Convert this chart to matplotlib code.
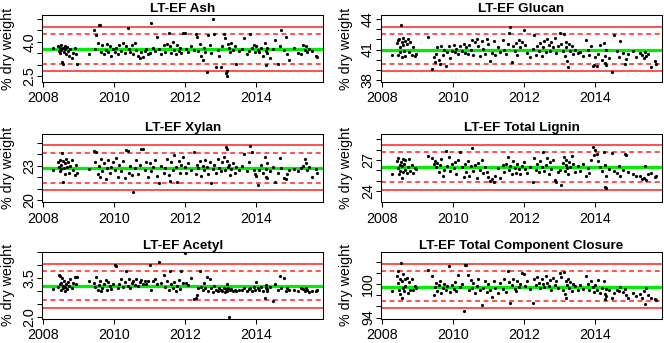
import matplotlib
matplotlib.use('Agg')
import matplotlib.pyplot as plt
from matplotlib.ticker import FixedLocator, FixedFormatter

plt.rcParams['font.family'] = ['Liberation Sans', 'DejaVu Sans']

# sampling dates (decimal years), shared by all components
dates = [
    2008.27, 2008.42, 2008.44, 2008.46, 2008.48, 2008.50, 2008.51, 2008.53, 2008.55, 2008.56, 2008.58, 2008.60,
    2008.62, 2008.64, 2008.66, 2008.70, 2008.73, 2008.76, 2008.80, 2008.84, 2008.88, 2008.92, 2008.96,
    2009.30, 2009.42, 2009.46, 2009.50, 2009.53, 2009.56, 2009.60, 2009.63, 2009.67, 2009.72, 2009.76, 2009.80,
    2009.84, 2009.88, 2009.92, 2009.96,
    2010.02, 2010.06, 2010.10, 2010.15, 2010.20, 2010.25, 2010.30, 2010.34, 2010.38, 2010.42, 2010.46, 2010.50,
    2010.54, 2010.58, 2010.62, 2010.67, 2010.72, 2010.77, 2010.82, 2010.86, 2010.90, 2010.95,
    2011.00, 2011.05, 2011.10, 2011.15, 2011.20, 2011.27, 2011.33, 2011.40, 2011.45, 2011.50, 2011.54, 2011.58,
    2011.62, 2011.66, 2011.70, 2011.74, 2011.78, 2011.82, 2011.86, 2011.90, 2011.95,
    2012.00, 2012.04, 2012.10, 2012.18, 2012.25, 2012.30, 2012.34, 2012.38, 2012.42, 2012.46, 2012.50, 2012.54,
    2012.58, 2012.62, 2012.66, 2012.70, 2012.74, 2012.78, 2012.82, 2012.87, 2012.92, 2012.96,
    2013.02, 2013.06, 2013.10, 2013.13, 2013.16, 2013.18, 2013.20, 2013.22, 2013.25, 2013.28, 2013.31, 2013.35,
    2013.40, 2013.45, 2013.52,
    2013.60, 2013.68, 2013.75, 2013.80, 2013.85, 2013.90, 2013.95, 2013.98,
    2014.02, 2014.06, 2014.10, 2014.15, 2014.20, 2014.25, 2014.28, 2014.30, 2014.31, 2014.32, 2014.40, 2014.48,
    2014.55, 2014.62, 2014.68, 2014.72, 2014.80, 2014.85, 2014.88, 2014.95,
    2015.08, 2015.18, 2015.28, 2015.33, 2015.38, 2015.42, 2015.45, 2015.50, 2015.58, 2015.70, 2015.72,
]

ash = [
    3.71, 3.80, 3.60, 3.75, 3.50, 3.85, 3.65, 3.10, 3.05, 3.75, 3.55, 3.82, 3.68, 3.45, 3.78, 3.60, 3.40, 3.70,
    3.30, 3.50, 3.72, 3.45, 3.05,
    3.45, 4.50, 3.70, 4.29, 3.95, 4.72, 4.72, 3.55, 3.85, 3.45, 3.65, 3.90, 3.55, 3.80, 3.40, 3.70,
    3.55, 3.75, 3.45, 3.85, 3.60, 3.95, 3.50, 3.80, 4.58, 3.70, 3.55, 3.85, 3.45, 3.95, 3.65, 3.40, 3.30, 3.55,
    3.35, 3.60, 3.70, 3.45,
    3.50, 4.80, 3.75, 3.60, 4.19, 3.70, 3.45, 3.85, 3.55, 3.90, 4.40, 3.80, 3.50, 4.00, 3.65, 3.45, 3.85, 3.60,
    3.75, 3.50, 4.39,
    4.39, 3.70, 3.55, 3.80, 3.65, 4.33, 4.20, 3.60, 3.90, 3.40, 3.20, 3.75, 3.55, 2.69, 4.29, 3.85, 3.50, 4.97,
    4.36, 2.90, 3.65, 3.40,
    2.90, 3.80, 4.36, 4.15, 2.62, 2.50, 2.75, 3.90, 3.75, 3.55, 3.95, 3.65, 3.80, 3.02, 3.60,
    3.70, 4.15, 3.45, 3.60, 4.36, 3.75, 3.85, 3.55,
    3.80, 3.65, 3.55, 3.75, 3.40, 3.93, 2.98, 3.60, 3.50, 3.75, 3.30, 3.70,
    4.07, 3.02, 3.80, 4.51, 3.65, 4.22, 3.45, 3.20,
    3.75, 3.50, 3.45, 3.85, 3.65, 3.80, 3.55, 3.70, 3.60, 3.40, 3.35,
]

glucan = [
    40.45, 41.6, 41.9, 40.5, 42.0, 41.2, 40.8, 43.4, 41.7, 40.3, 41.4, 42.1, 40.9, 41.8, 40.4, 41.5, 42.0, 40.8,
    41.7, 40.5, 41.2, 40.4, 40.6,
    42.2, 39.1, 40.3, 39.8, 40.6, 41.2, 40.0, 39.6, 41.3, 40.5, 41.0, 39.4, 40.8, 41.3, 40.2, 40.9,
    41.4, 40.8, 41.1, 40.6, 41.3, 40.9, 41.5, 40.7, 41.2, 40.6, 41.4, 41.0, 41.9, 40.5, 41.7, 42.0, 41.3, 40.4,
    41.8, 41.1, 40.6, 42.0,
    41.5, 39.9, 40.7, 41.8, 40.5, 41.2, 40.8, 41.9, 41.0, 40.6, 41.5, 42.6, 43.2, 39.8, 41.3, 40.9, 41.6, 40.5,
    41.9, 41.2, 41.7,
    42.9, 41.4, 40.7, 40.3, 41.1, 42.4, 40.5, 41.3, 40.9, 41.6, 40.4, 41.2, 41.8, 40.8, 42.0, 41.4, 40.9, 41.7,
    41.2, 42.1, 40.7, 41.3,
    42.6, 41.5, 40.9, 42.5, 40.4, 41.7, 41.2, 39.9, 39.3, 41.5, 40.9, 41.3, 40.6, 41.0, 40.7,
    40.8, 40.4, 41.9, 41.0, 40.5, 41.3, 39.4, 39.5,
    40.3, 39.4, 40.6, 41.4, 40.0, 41.6, 39.7, 40.4, 41.0, 39.5, 40.2, 38.8,
    42.4, 40.9, 40.3, 41.8, 40.7, 39.6, 40.1, 40.6,
    40.9, 40.3, 40.7, 40.5, 40.2, 40.8, 40.4, 40.6, 39.3, 39.9, 39.6,
]

xylan = [
    22.6, 23.3, 22.9, 23.5, 22.5, 23.1, 22.7, 24.1, 21.6, 23.4, 22.8, 23.2, 22.3, 23.6, 22.9, 23.3, 22.4, 23.0,
    23.5, 22.6, 22.2, 23.1, 22.4,
    22.7, 24.3, 23.3, 24.2, 22.3, 23.0, 22.0, 23.6, 22.5, 23.2, 21.8, 22.8, 23.5, 22.4, 22.9, 23.3,
    22.6, 23.7, 22.0, 23.1, 22.5, 23.4, 21.9, 24.4, 24.3, 22.4, 23.0, 22.2, 20.7, 22.8, 23.5, 22.3, 23.1, 24.5,
    24.5, 22.6, 23.3, 22.0,
    23.2, 22.5, 22.9, 23.5, 22.1, 21.5, 23.0, 22.4, 22.8, 23.6, 22.2, 21.7, 23.3, 22.6, 23.9, 22.9, 21.6, 23.4,
    22.4, 23.1, 23.8,
    22.9, 22.4, 23.2, 22.6, 24.2, 22.3, 23.1, 22.8, 23.4, 22.1, 23.0, 22.6, 23.5, 22.9, 22.3, 23.3, 21.5, 22.7,
    23.1, 22.4, 23.6, 22.8,
    22.5, 23.3, 23.8, 22.6, 24.6, 24.5, 23.4, 22.9, 23.1, 22.2, 22.7, 23.2, 22.4, 22.9, 22.6,
    23.0, 24.0, 22.5, 23.3, 24.7, 24.2, 22.6, 22.3,
    22.1, 21.3, 22.6, 23.1, 22.4, 23.8, 22.0, 22.7, 23.2, 21.9, 22.5, 22.9,
    21.6, 22.4, 23.7, 22.8, 21.9, 21.8, 22.3, 22.6,
    22.7, 22.5, 22.8, 23.0, 23.6, 23.2, 22.6, 22.9, 22.0, 22.7, 22.4,
]

lignin = [
    25.65, 26.9, 26.2, 27.2, 25.6, 26.5, 25.9, 26.8, 25.3, 26.4, 27.1, 25.8, 26.6, 26.0, 27.0, 25.7, 26.3, 27.1,
    25.9, 26.5, 25.7, 26.2, 26.1,
    27.4, 27.2, 26.6, 26.9, 26.3, 26.7, 25.8, 26.5, 27.1, 25.5, 26.0, 27.9, 26.4, 27.3, 25.9, 26.6,
    26.2, 26.8, 25.6, 27.0, 27.8, 26.3, 25.4, 26.6, 25.8, 26.9, 25.5, 26.4, 28.15, 25.9, 26.5, 25.3, 26.7, 26.0,
    27.0, 25.7, 26.3, 25.8,
    25.4, 25.0, 25.2, 24.9, 25.5, 26.2, 25.3, 26.5, 25.8, 26.6, 27.3, 26.0, 26.4, 25.6, 26.9, 26.2, 25.7, 26.6,
    26.1, 25.6, 26.4,
    26.8, 26.1, 25.7, 26.3, 24.85, 27.2, 26.0, 26.6, 25.8, 26.9, 26.3, 27.8, 25.9, 26.5, 27.2, 25.6, 26.8, 26.1,
    27.0, 25.1, 24.9, 25.8,
    26.0, 24.55, 26.7, 27.3, 25.9, 26.5, 27.0, 26.2, 25.6, 26.8, 26.3, 27.4, 26.6, 25.8, 26.4,
    25.9, 26.6, 25.5, 26.2, 25.7, 27.0, 28.25, 27.5,
    28.0, 27.6, 26.9, 26.3, 25.9, 27.8, 26.5, 24.4, 24.3, 25.5, 26.1, 27.7,
    25.9, 25.7, 26.4, 25.5, 26.0, 27.6, 27.5, 25.8,
    25.6, 25.5, 25.5, 25.2, 25.3, 26.4, 25.1, 25.6, 25.7, 25.4, 25.5,
]

acetyl = [
    3.07, 3.15, 3.62, 3.25, 3.56, 3.05, 3.30, 3.50, 3.12, 3.20, 3.40, 2.98, 3.15, 3.28, 3.08, 3.35, 3.20, 3.45,
    3.10, 3.30, 3.52, 3.25, 3.55,
    3.38, 3.30, 3.15, 3.55, 3.05, 3.22, 3.40, 2.98, 3.12, 3.28, 3.42, 3.05, 3.35, 3.18, 3.08, 3.25,
    4.00, 3.95, 3.10, 3.28, 3.45, 3.15, 3.35, 3.78, 3.20, 3.48, 3.10, 3.30, 3.40, 3.22, 3.45, 3.18, 3.35, 3.42,
    3.28, 3.38, 3.25, 3.40,
    3.99, 3.05, 3.38, 3.45, 3.25, 4.12, 3.30, 3.62, 3.15, 3.40, 3.05, 3.76, 3.25, 3.12, 3.35, 2.98, 3.20, 3.42,
    3.08, 3.76, 3.30,
    4.48, 3.30, 3.22, 3.50, 2.68, 2.72, 2.85, 3.10, 3.78, 3.15, 3.02, 3.30, 3.10, 3.55, 3.00, 3.48, 3.12, 2.95,
    3.20, 3.05, 2.98, 3.10,
    3.05, 2.98, 3.12, 2.95, 3.08, 3.25, 3.00, 3.10, 1.97, 3.02, 3.08, 2.98, 3.05, 3.00, 3.05,
    3.02, 3.10, 2.98, 3.08, 3.12, 3.00, 3.15, 3.05,
    3.34, 3.10, 3.05, 3.15, 3.00, 2.72, 3.12, 3.22, 2.98, 3.08, 3.15, 2.59,
    3.28, 3.05, 3.56, 3.12, 3.50, 3.00, 3.10, 3.05,
    3.05, 3.00, 3.12, 3.08, 2.98, 3.10, 3.02, 2.95, 3.00, 2.98, 3.02,
]

closure = [
    98.7, 101.5, 100.2, 102.4, 99.0, 101.0, 98.3, 103.8, 97.5, 100.6, 99.4, 101.8, 98.8, 100.9, 99.6, 101.2,
    98.5, 100.4, 99.0, 101.0, 98.9, 99.7, 99.3,
    102.6, 101.4, 98.0, 99.5, 100.3, 98.7, 99.8, 100.6, 98.5, 99.3, 100.1, 98.9, 99.6, 103.2, 98.6, 99.9,
    99.2, 100.4, 98.8, 101.6, 99.5, 100.0, 95.1, 103.4, 103.5, 101.7, 99.0, 100.8, 99.3, 100.3, 98.4, 99.7,
    100.9, 98.9, 96.2, 99.4, 100.5, 98.6,
    100.1, 99.0, 97.7, 100.6, 99.3, 98.4, 100.2, 99.1, 101.0, 98.6, 102.3, 100.4, 96.6, 99.8, 100.9, 99.2,
    98.7, 100.5, 99.5, 100.0, 102.0,
    101.8, 99.6, 100.6, 99.1, 96.6, 100.9, 99.8, 101.3, 100.2, 99.3, 101.0, 100.1, 99.5, 101.5, 100.3, 99.7,
    100.8, 98.9, 101.1, 99.9, 100.6, 99.4,
    102.0, 101.3, 99.0, 102.2, 98.2, 100.6, 97.6, 99.8, 100.9, 99.3, 100.4, 98.8, 100.1, 99.6, 99.0,
    99.8, 99.2, 101.4, 100.0, 98.9, 100.6, 99.5, 98.6,
    99.9, 99.0, 100.8, 98.5, 99.4, 100.5, 97.4, 98.3, 99.1, 97.8, 98.9, 97.6,
    98.4, 99.0, 98.8, 99.5, 98.6, 99.2, 98.0, 97.6,
    98.5, 97.9, 98.2, 97.6, 98.8, 96.4, 99.3, 98.0, 97.5, 97.4, 97.2,
]

titles = ['LT-EF Ash', 'LT-EF Glucan', 'LT-EF Xylan', 'LT-EF Total Lignin',
          'LT-EF Acetyl', 'LT-EF Total Component Closure']

# control limits: lower 3sd, lower 2sd, mean, upper 2sd, upper 3sd
ash_limits = [2.72, 3.025, 3.665, 4.335, 4.655]
glucan_limits = [38.83, 39.53, 41.0, 42.53, 43.27]
xylan_limits = [20.87, 21.52, 22.83, 24.14, 24.81]
lignin_limits = [24.13, 24.84, 26.29, 27.74, 28.48]
acetyl_limits = [2.34, 2.64, 3.18, 3.77, 4.06]
closure_limits = [95.69, 97.07, 99.58, 102.34, 103.65]

ash_ylim = (2.25, 5.165)
glucan_ylim = (37.77, 44.43)
xylan_ylim = (19.8, 25.75)
lignin_ylim = (22.9, 29.5)
acetyl_ylim = (1.92, 4.51)
closure_ylim = (93.8, 105.8)

ash_yticks = [2.5, 3.0, 3.5, 4.0, 4.5, 5.0]
ash_yticklabels = ['2.5', '', '', '4.0', '', '']
glucan_yticks = [38, 39, 40, 41, 42, 43, 44]
glucan_yticklabels = ['38', '', '', '41', '', '', '44']
xylan_yticks = [20, 21, 22, 23, 24, 25]
xylan_yticklabels = ['20', '', '', '23', '', '']
lignin_yticks = [24, 25, 26, 27, 28, 29]
lignin_yticklabels = ['24', '', '', '27', '', '']
acetyl_yticks = [2.0, 2.5, 3.0, 3.5, 4.0, 4.5]
acetyl_yticklabels = ['2.0', '', '', '3.5', '', '']
closure_yticks = [94, 96, 98, 100, 102, 104]
closure_yticklabels = ['94', '', '', '100', '', '']

xticks = [2008, 2010, 2012, 2014]
xticklabels = ['2008', '2010', '2012', '2014']
xlim = (2007.97, 2015.9)

series = [ash, glucan, xylan, lignin, acetyl, closure]
limits = [ash_limits, glucan_limits, xylan_limits, lignin_limits, acetyl_limits, closure_limits]
ylims = [ash_ylim, glucan_ylim, xylan_ylim, lignin_ylim, acetyl_ylim, closure_ylim]
yticks = [ash_yticks, glucan_yticks, xylan_yticks, lignin_yticks, acetyl_yticks, closure_yticks]
yticklabels = [ash_yticklabels, glucan_yticklabels, xylan_yticklabels, lignin_yticklabels,
               acetyl_yticklabels, closure_yticklabels]

W, H = 664, 343
fig = plt.figure(figsize=(W / 100, H / 100), dpi=100)

cols = [(42.3, 323.0), (381.0, 662.0)]
rows = [(15.0, 82.0), (134.3, 202.3), (252.0, 318.7)]
label_right = [15.0, 353.0]

for i in range(6):
    r, c = divmod(i, 2)
    x0, x1 = cols[c]
    y0, y1 = rows[r]
    ax = fig.add_axes([x0 / W, 1 - y1 / H, (x1 - x0) / W, (y1 - y0) / H])
    lo3, lo2, mean, hi2, hi3 = limits[i]
    for v in (lo3, hi3):
        ax.axhline(v, color='#ff2020', lw=1.1, zorder=1)
    for v in (lo2, hi2):
        ax.axhline(v, color='#ff2020', lw=1.1, ls=(0, (3.2, 2.4)), zorder=1)
    ax.axhline(mean, color='#00ee00', lw=2.3, zorder=2)
    ax.plot(dates, series[i], 'o', ms=2.3, color='black', mew=0, zorder=3, clip_on=False)
    ax.set_xlim(*xlim)
    ax.set_ylim(*ylims[i])
    ax.xaxis.set_major_locator(FixedLocator(xticks))
    ax.xaxis.set_major_formatter(FixedFormatter(xticklabels))
    ax.yaxis.set_major_locator(FixedLocator(yticks[i]))
    ax.yaxis.set_major_formatter(FixedFormatter(yticklabels[i]))
    ax.tick_params(axis='both', length=3.8, width=0.75, color='black', labelsize=10.3)
    ax.tick_params(axis='x', pad=3.0)
    ax.tick_params(axis='y', pad=0.6)
    for lab in ax.get_yticklabels():
        lab.set_rotation(90)
        lab.set_va('center')
    for s in ax.spines.values():
        s.set_linewidth(0.75)
        s.set_color('black')
    ax.set_title(titles[i], fontsize=9.7, fontweight='bold', pad=2.5)
    ax.set_ylabel('% dry weight', fontsize=10.3)
    ax.yaxis.set_label_coords((label_right[c] - x0) / (x1 - x0), 0.5)

fig.savefig('out.png', dpi=100)
